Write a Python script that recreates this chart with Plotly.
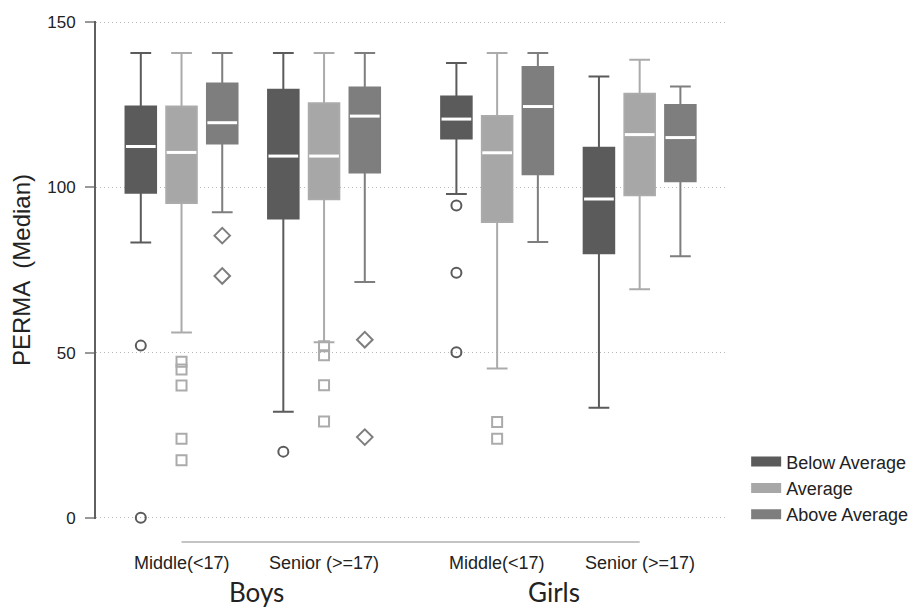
import plotly.graph_objects as go

# ---------------- data ----------------
groups = ["Boys", "Girls"]
school_levels = ["Middle(<17)", "Senior (>=17)", "Middle(<17)", "Senior (>=17)"]
series_names = ["Below Average", "Average", "Above Average"]
y_ticks = [0, 50, 100, 150]

# per series: values for [Boys Middle, Boys Senior, Girls Middle, Girls Senior]
lower_whisker = {
    "Below Average": [83.3, 32.1, 98.0, 33.3],
    "Average":       [56.1, 53.1, 45.2, 69.2],
    "Above Average": [92.5, 71.4, 83.5, 79.2],
}
q1_vals = {
    "Below Average": [98.4, 90.6, 114.8, 80.1],
    "Average":       [95.3, 96.4, 89.5, 97.6],
    "Above Average": [113.3, 104.5, 104.0, 101.9],
}
median_vals = {
    "Below Average": [112.4, 109.5, 120.7, 96.5],
    "Average":       [110.6, 109.5, 110.5, 116.0],
    "Above Average": [119.6, 121.6, 124.5, 115.1],
}
q3_vals = {
    "Below Average": [124.5, 129.6, 127.5, 112.0],
    "Average":       [124.5, 125.5, 121.6, 128.4],
    "Above Average": [131.5, 130.3, 136.5, 125.0],
}
upper_whisker = {
    "Below Average": [140.7, 140.7, 137.7, 133.6],
    "Average":       [140.7, 140.7, 140.7, 138.7],
    "Above Average": [140.7, 140.7, 140.7, 130.6],
}
outliers = {
    "Below Average": [[52.1, 0.0], [20.0], [94.5, 74.2, 50.1], []],
    "Average":       [[47.2, 44.9, 40.0, 23.9, 17.4], [51.9, 49.2, 40.1, 29.1], [29.0, 23.9], []],
    "Above Average": [[85.4, 73.2], [53.9, 24.4], [], []],
}

# ---------------- style ----------------
fill_colors = {"Below Average": "#5b5b5b", "Average": "#a7a7a7", "Above Average": "#7e7e7e"}
line_colors = {"Below Average": "#5b5b5b", "Average": "#ababab", "Above Average": "#7e7e7e"}
symbols = {"Below Average": "circle-open", "Average": "square-open", "Above Average": "diamond-open"}
marker_sizes = {"Below Average": 10, "Average": 10, "Above Average": 12}

group_centers = [0.0, 3.5, 7.75, 11.25]
offsets = [-1.0, 0.0, 1.0]
box_w = 0.75
TXT = "#222222"
SANS = "Liberation Sans, Arial"

fig = go.Figure()

for k, name in enumerate(series_names):
    xs = [c + offsets[k] for c in group_centers]
    fig.add_trace(go.Box(
        x=xs,
        q1=q1_vals[name], median=median_vals[name], q3=q3_vals[name],
        lowerfence=lower_whisker[name], upperfence=upper_whisker[name],
        width=box_w, whiskerwidth=0.68,
        fillcolor=fill_colors[name],
        line=dict(color=line_colors[name], width=2),
        name=name, showlegend=False, hoverinfo="skip",
    ))

# white median lines
for k, name in enumerate(series_names):
    mx, my = [], []
    for g, c in enumerate(group_centers):
        x = c + offsets[k]
        mx += [x - box_w / 2 + 0.01, x + box_w / 2 - 0.01, None]
        my += [median_vals[name][g], median_vals[name][g], None]
    fig.add_trace(go.Scatter(x=mx, y=my, mode="lines",
                             line=dict(color="white", width=3),
                             showlegend=False, hoverinfo="skip"))

# outliers
for k, name in enumerate(series_names):
    ox, oy = [], []
    for g, c in enumerate(group_centers):
        for v in outliers[name][g]:
            ox.append(c + offsets[k])
            oy.append(v)
    fig.add_trace(go.Scatter(x=ox, y=oy, mode="markers", cliponaxis=False,
                             marker=dict(symbol=symbols[name], size=marker_sizes[name],
                                         color=line_colors[name], line=dict(width=2, color=line_colors[name])),
                             showlegend=False, hoverinfo="skip"))

# legend entries
for name in series_names:
    fig.add_trace(go.Scatter(x=[None], y=[None], mode="lines",
                             line=dict(color=fill_colors[name], width=14),
                             name=name, showlegend=True))

# x category labels
annotations = []
for c, lab in zip(group_centers, school_levels):
    annotations.append(dict(x=c, y=0, xref="x", yref="paper", text=lab, showarrow=False,
                            yanchor="middle", yshift=-44,
                            font=dict(size=18, color=TXT, family=SANS)))
group_label_x = [(group_centers[0] + group_centers[1]) / 2 + 0.1, (group_centers[2] + group_centers[3]) / 2 - 0.35]
for gx, g in zip(group_label_x, groups):
    annotations.append(dict(x=gx, y=0, xref="x", yref="paper", text=g, showarrow=False,
                            yanchor="middle", yshift=-73,
                            font=dict(size=26, color=TXT, family="Lato, Open Sans")))

shapes = [dict(type="line", xref="x", yref="paper",
               x0=group_centers[0], x1=group_centers[3], y0=-0.0462, y1=-0.0462,
               line=dict(color="#b0b0b0", width=1.5))]

fig.update_layout(
    width=917, height=607,
    margin=dict(l=88, r=195, t=13, b=96),
    plot_bgcolor="white", paper_bgcolor="white",
    boxmode="overlay",
    annotations=annotations, shapes=shapes,
    showlegend=True,
    legend=dict(x=1.032, xanchor="left", y=0.152, yanchor="top",
                font=dict(size=18, color=TXT, family=SANS),
                itemwidth=30, tracegroupgap=0, bgcolor="rgba(0,0,0,0)"),
    font=dict(family=SANS, color=TXT),
)
fig.update_xaxes(range=[-2.1, 13.37], showgrid=False, zeroline=False, showticklabels=False,
                 showline=False, ticks="")
fig.update_yaxes(range=[-0.4, 150.4], tickvals=y_ticks, ticktext=[str(v) for v in y_ticks],
                 showgrid=True, gridcolor="#b8b8b8", griddash="1px,3px", gridwidth=1,
                 zeroline=False, showline=True, linecolor="#606060", linewidth=2,
                 ticks="outside", ticklen=9, tickcolor="#999999", tickwidth=1.5,
                 ticklabelstandoff=6, automargin=False,
                 tickfont=dict(size=17, color=TXT),
                 title=dict(text="PERMA  (Median)", font=dict(size=24, color=TXT), standoff=12))

fig.write_html("out.html")
